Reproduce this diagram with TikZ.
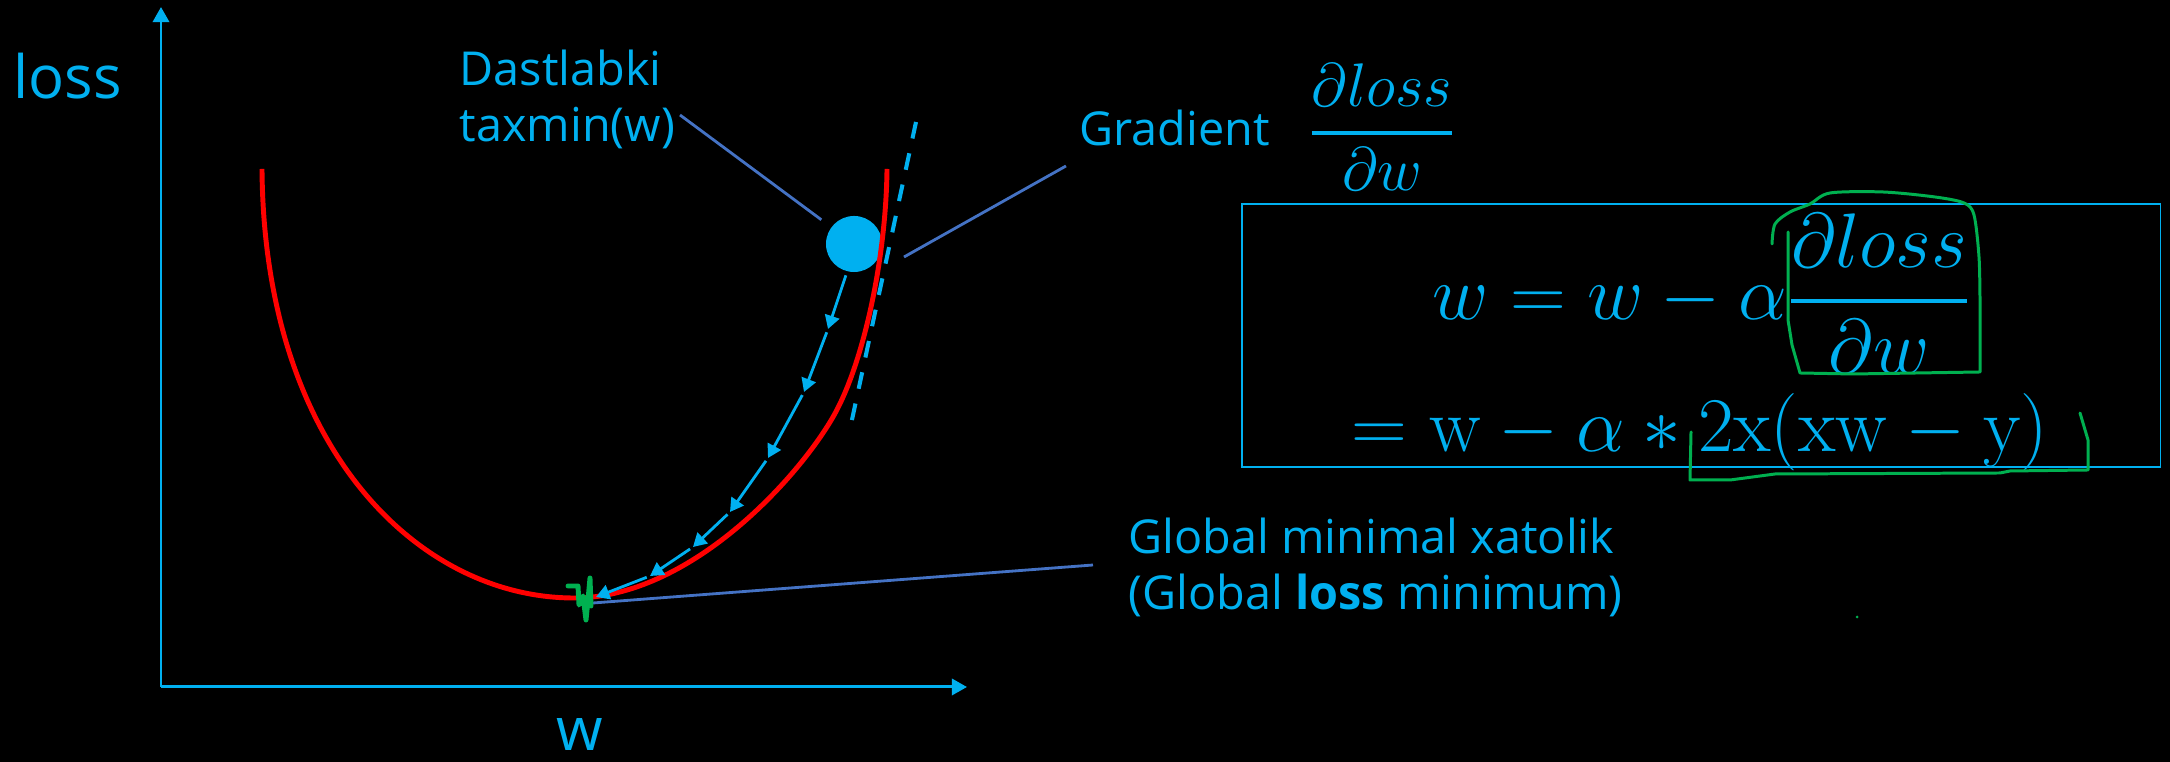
\RequirePackage{fix-cm}
\documentclass[tikz,border=0pt]{standalone}
\usepackage{amsmath}
\usepackage[no-math]{fontspec}
\setmainfont{Open Sans}
\usetikzlibrary{arrows.meta}
\definecolor{sky}{HTML}{00B0F0}
\definecolor{ptr}{HTML}{4472C4}
\definecolor{lossred}{HTML}{FF0000}
\definecolor{pen}{HTML}{00B050}
\newcommand{\dlossdw}{\genfrac{}{}{1.1pt}{0}{\partial loss}{\partial w}}

\begin{document}
\begin{tikzpicture}[x=0.01cm,y=-0.01cm,
 lbl/.style={text=sky,inner sep=0pt,font=\fontsize{13.3}{15.9}\selectfont},
 big/.style={text=sky,inner sep=0pt,font=\fontsize{17}{20}\selectfont},
 eq/.style={text=sky,inner sep=0pt,font=\fontsize{22}{26}\selectfont},
 axis/.style={sky,line width=0.85pt,-{Triangle[length=4.3pt,width=4.6pt]}},
 ptrline/.style={ptr,line width=0.8pt},
 hop/.style={sky,line width=0.8pt,shorten <=1pt,-{Triangle[length=3.8pt,width=4.2pt]}},
 ink/.style={pen,line width=0.85pt,line cap=round,line join=round}]
\fill[black] (0,0) rectangle (2170,762);
\useasboundingbox (0,0) rectangle (2170,762);

% axes
\coordinate (O) at (161,687);
\coordinate (ytip) at (161,7);
\coordinate (xtip) at (967,687);
\draw[axis] (O) -- (ytip);
\draw[axis] (O) -- (xtip);
\node[big,anchor=base west] (ylab) at (13,99) {loss};
\node[big,anchor=base] (xlab) at (580,751) {w};

% labels
\node[lbl,anchor=north west,align=left] (guess) at (459,49) {Dastlabki\\taxmin(w)};
\node[lbl,anchor=base west] (grad) at (1079,146) {Gradient};
\node[text=sky,inner sep=0pt,font=\fontsize{17.5}{21}\selectfont,anchor=base] (gfrac) at (1382,148)
 {$\dlossdw$};
\node[lbl,anchor=north west,align=left] (gmin) at (1128,517)
 {Global minimal xatolik\\(Global \textbf{loss} minimum)};

% update rule
\node[draw=sky,line width=0.45pt,minimum width=9.18cm,minimum height=2.63cm,inner sep=0pt] (upd) at (1701,335.5) {};
\node[eq,anchor=base] (eqa) at (1702,320) {$w=w-\alpha\dlossdw$};
\node[eq,anchor=base] (eqb) at (1700,452) {$=\mathrm{w}-\alpha*\mathrm{2x(xw-y)}$};

% pointers
\node[circle,fill=sky,minimum size=0.56cm,inner sep=0pt] (ball) at (854,244) {};
\coordinate (guessend) at (680,115);
\coordinate (gradend) at (1066,166);
\coordinate (tanpt) at (904,257);
\coordinate (gminend) at (1093,565);
\coordinate (minpt) at (593,603);
\draw[ptrline,shorten >=3.4pt] (guessend) -- (ball);
\draw[ptrline] (gradend) -- (tanpt);
\draw[ptrline] (gminend) -- (minpt);

% loss curve and tangent
\draw[lossred,line width=1.4pt] (262,169) .. controls (264,450) and (420,598) .. (574,598)
 .. controls (690,598) and (798,478) .. (833,417)
 .. controls (863,365) and (886,260) .. (887,169);
\coordinate (tantop) at (916,122);
\coordinate (tanbot) at (850,429);
\draw[sky,line width=1.15pt,dash pattern=on 4.8pt off 4.3pt] (tantop) -- (tanbot);

% descent steps
\coordinate (s0) at (847,272);
\coordinate (s1) at (828,329);
\coordinate (s2) at (804,392);
\coordinate (s3) at (768,458);
\coordinate (s4) at (730,512);
\coordinate (s5) at (693,547);
\coordinate (s6) at (650,576);
\coordinate (s7) at (596,597);
\foreach \a/\b in {s0/s1,s1/s2,s2/s3,s3/s4,s4/s5,s5/s6,s6/s7} \draw[hop] (\a)--(\b);

% hand marks
\draw[pen,line width=1.4pt,line cap=round,line join=round] (568,586) -- (578,586) -- (579,605)
 -- (583,596) -- (586,620) -- (588,600) -- (590,578) -- (591,606);
\draw[ink] plot[smooth,tension=0.5] coordinates {(1772,244) (1775,224) (1790,212) (1810,204)
 (1830,193) (1883,192) (1935,197) (1964,203) (1974,215) (1979,257) (1980,300)}
 -- (1980,372) -- (1853,374) -- (1800,373) -- (1792,345) -- (1788,320) -- (1788,232);
\draw[ink] (1691,432) -- (1690,480) -- (1730,480) -- (1775,474) -- (2000,473) -- (2010,471)
 -- (2088,470) -- (2088,440) -- (2080,413);
\fill[pen] (1857,617) circle (1.5);
\end{tikzpicture}
\end{document}
